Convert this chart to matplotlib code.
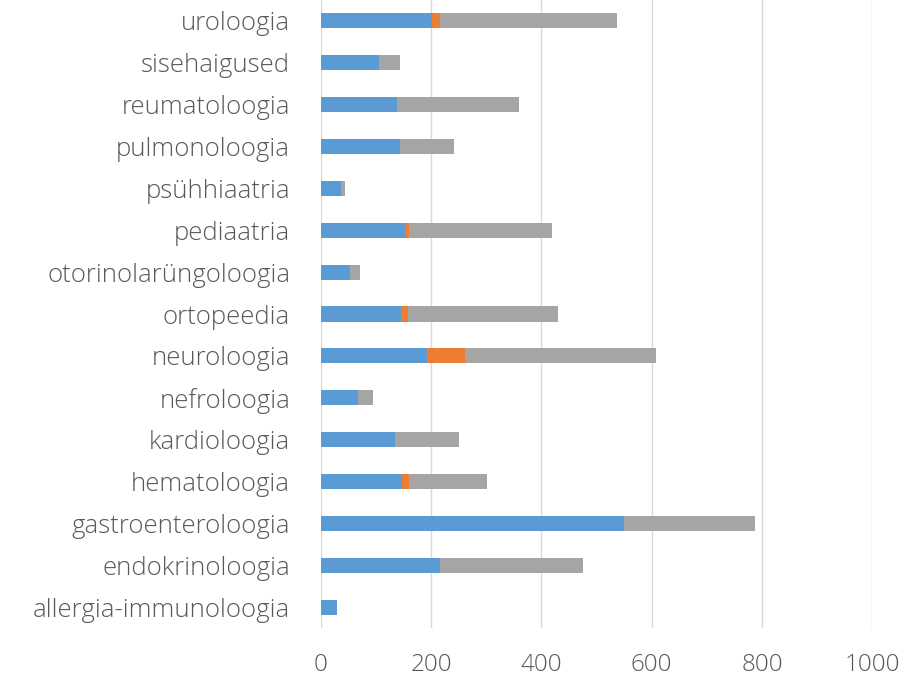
import matplotlib
matplotlib.use("Agg")
import matplotlib.pyplot as plt
import numpy as np

# categories bottom -> top
categories = ["allergia-immunoloogia", "endokrinoloogia", "gastroenteroloogia",
              "hematoloogia", "kardioloogia", "nefroloogia", "neuroloogia",
              "ortopeedia", "otorinolarüngoloogia", "pediaatria", "psühhiaatria",
              "pulmonoloogia", "reumatoloogia", "sisehaigused", "uroloogia"]

blue = [29, 216, 549, 147, 135, 68, 192, 146, 53, 153, 36, 144, 138, 106, 201]
orange = [0, 0, 0, 14, 0, 0, 70, 12, 0, 8, 0, 0, 0, 0, 15]
totals = [29, 476, 787, 302, 251, 95, 608, 430, 71, 420, 44, 242, 360, 143, 538]
gray = [t - b - o for t, b, o in zip(totals, blue, orange)]

xticks = [0, 200, 400, 600, 800, 1000]

plt.rcParams['font.family'] = ['Open Sans', 'DejaVu Sans']
plt.rcParams['font.weight'] = 'light'
text_color = "#595959"

fig = plt.figure(figsize=(9.09, 6.83), dpi=100)
ax = fig.add_axes([0.3528, 0.0805, 0.9596 - 0.3528, 0.9195])

y = np.arange(len(categories))
h = 0.36
ax.barh(y, blue, height=h, color="#5B9BD5", zorder=3)
ax.barh(y, orange, height=h, left=blue, color="#ED7D31", zorder=3)
ax.barh(y, gray, height=h, left=np.array(blue) + np.array(orange), color="#A5A5A5", zorder=3)

ax.set_xlim(0, 1000)
ax.set_ylim(-0.5, len(categories) - 0.5)
ax.set_xticks(xticks)
ax.set_xticklabels([str(t) for t in xticks])
ax.set_yticks(y)
ax.set_yticklabels(categories)

ax.grid(axis="x", color="#D9D9D9", linewidth=1, zorder=0)
for s in ax.spines.values():
    s.set_visible(False)
ax.tick_params(axis="both", length=0, colors=text_color)
ax.tick_params(axis="y", pad=22, labelsize=18.5)
ax.tick_params(axis="x", pad=18, labelsize=17.5)

fig.savefig("out.png", dpi=100)
